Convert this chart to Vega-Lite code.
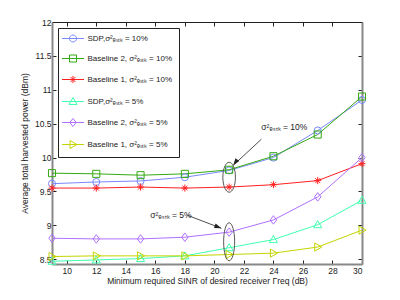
{
  "$schema": "https://vega.github.io/schema/vega-lite/v6.json",
  "width": 310,
  "height": 242,
  "autosize": "none",
  "padding": {"left": 52, "top": 22, "right": 38, "bottom": 36},
  "background": "white",
  "config": {
    "view": {"stroke": null},
    "font": "Liberation Sans",
    "axis": {"labelFont": "Liberation Sans", "titleFont": "Liberation Sans", "labelFontSize": 8.5, "titleFontSize": 8.5, "titleFontWeight": "normal", "labelColor": "#222", "titleColor": "#222", "grid": false, "tickColor": "#222", "tickSize": -4, "tickWidth": 1},
    "legend": {"labelFont": "Liberation Sans", "labelFontSize": 8, "labelColor": "#222"}
  },
  "datasets": {
    "main": [
      {"series": "SDP,σ²ₑₛₜₖ = 10%", "x": 9, "y": 9.615},
      {"series": "SDP,σ²ₑₛₜₖ = 10%", "x": 12, "y": 9.64},
      {"series": "SDP,σ²ₑₛₜₖ = 10%", "x": 15, "y": 9.655},
      {"series": "SDP,σ²ₑₛₜₖ = 10%", "x": 18, "y": 9.71},
      {"series": "SDP,σ²ₑₛₜₖ = 10%", "x": 21, "y": 9.81},
      {"series": "SDP,σ²ₑₛₜₖ = 10%", "x": 24, "y": 10.0},
      {"series": "SDP,σ²ₑₛₜₖ = 10%", "x": 27, "y": 10.4},
      {"series": "SDP,σ²ₑₛₜₖ = 10%", "x": 30, "y": 10.85},
      {"series": "Baseline 2, σ²ₑₛₜₖ = 10%", "x": 9, "y": 9.77},
      {"series": "Baseline 2, σ²ₑₛₜₖ = 10%", "x": 12, "y": 9.76},
      {"series": "Baseline 2, σ²ₑₛₜₖ = 10%", "x": 15, "y": 9.74},
      {"series": "Baseline 2, σ²ₑₛₜₖ = 10%", "x": 18, "y": 9.76},
      {"series": "Baseline 2, σ²ₑₛₜₖ = 10%", "x": 21, "y": 9.82},
      {"series": "Baseline 2, σ²ₑₛₜₖ = 10%", "x": 24, "y": 10.02},
      {"series": "Baseline 2, σ²ₑₛₜₖ = 10%", "x": 27, "y": 10.34},
      {"series": "Baseline 2, σ²ₑₛₜₖ = 10%", "x": 30, "y": 10.9},
      {"series": "Baseline 1, σ²ₑₛₜₖ = 10%", "x": 9, "y": 9.55},
      {"series": "Baseline 1, σ²ₑₛₜₖ = 10%", "x": 12, "y": 9.55},
      {"series": "Baseline 1, σ²ₑₛₜₖ = 10%", "x": 15, "y": 9.565},
      {"series": "Baseline 1, σ²ₑₛₜₖ = 10%", "x": 18, "y": 9.55},
      {"series": "Baseline 1, σ²ₑₛₜₖ = 10%", "x": 21, "y": 9.565},
      {"series": "Baseline 1, σ²ₑₛₜₖ = 10%", "x": 24, "y": 9.6},
      {"series": "Baseline 1, σ²ₑₛₜₖ = 10%", "x": 27, "y": 9.66},
      {"series": "Baseline 1, σ²ₑₛₜₖ = 10%", "x": 30, "y": 9.91},
      {"series": "SDP,σ²ₑₛₜₖ = 5%", "x": 9, "y": 8.47},
      {"series": "SDP,σ²ₑₛₜₖ = 5%", "x": 12, "y": 8.49},
      {"series": "SDP,σ²ₑₛₜₖ = 5%", "x": 15, "y": 8.51},
      {"series": "SDP,σ²ₑₛₜₖ = 5%", "x": 18, "y": 8.55},
      {"series": "SDP,σ²ₑₛₜₖ = 5%", "x": 21, "y": 8.67},
      {"series": "SDP,σ²ₑₛₜₖ = 5%", "x": 24, "y": 8.79},
      {"series": "SDP,σ²ₑₛₜₖ = 5%", "x": 27, "y": 9.01},
      {"series": "SDP,σ²ₑₛₜₖ = 5%", "x": 30, "y": 9.37},
      {"series": "Baseline 2, σ²ₑₛₜₖ = 5%", "x": 9, "y": 8.81},
      {"series": "Baseline 2, σ²ₑₛₜₖ = 5%", "x": 12, "y": 8.8},
      {"series": "Baseline 2, σ²ₑₛₜₖ = 5%", "x": 15, "y": 8.8},
      {"series": "Baseline 2, σ²ₑₛₜₖ = 5%", "x": 18, "y": 8.825},
      {"series": "Baseline 2, σ²ₑₛₜₖ = 5%", "x": 21, "y": 8.9},
      {"series": "Baseline 2, σ²ₑₛₜₖ = 5%", "x": 24, "y": 9.08},
      {"series": "Baseline 2, σ²ₑₛₜₖ = 5%", "x": 27, "y": 9.42},
      {"series": "Baseline 2, σ²ₑₛₜₖ = 5%", "x": 30, "y": 10.0},
      {"series": "Baseline 1, σ²ₑₛₜₖ = 5%", "x": 9, "y": 8.54},
      {"series": "Baseline 1, σ²ₑₛₜₖ = 5%", "x": 12, "y": 8.55},
      {"series": "Baseline 1, σ²ₑₛₜₖ = 5%", "x": 15, "y": 8.55},
      {"series": "Baseline 1, σ²ₑₛₜₖ = 5%", "x": 18, "y": 8.55},
      {"series": "Baseline 1, σ²ₑₛₜₖ = 5%", "x": 21, "y": 8.57},
      {"series": "Baseline 1, σ²ₑₛₜₖ = 5%", "x": 24, "y": 8.59},
      {"series": "Baseline 1, σ²ₑₛₜₖ = 5%", "x": 27, "y": 8.68},
      {"series": "Baseline 1, σ²ₑₛₜₖ = 5%", "x": 30, "y": 8.93}
    ]
  },
  "resolve": {"scale": {"color": "independent", "shape": "independent"}, "axis": {"x": "independent", "y": "independent"}},
  "layer": [
    {
      "data": {"name": "main"},
      "mark": {"type": "line", "strokeWidth": 1},
      "encoding": {
        "x": {"field": "x", "type": "quantitative", "scale": {"domain": [9, 30], "nice": false, "zero": false},
          "axis": {"orient": "bottom", "title": "Minimum required SINR of desired receiver Γreq (dB)", "values": [10, 12, 14, 16, 18, 20, 22, 24, 26, 28, 30], "domainColor": "#888", "domainWidth": 2, "labelPadding": 6, "titlePadding": 2}},
        "y": {"field": "y", "type": "quantitative", "scale": {"domain": [8.43, 12], "nice": false, "zero": false},
          "axis": {"orient": "left", "title": "Average total harvested power (dBm)", "values": [8.5, 9, 9.5, 10, 10.5, 11, 11.5, 12], "format": "~g", "domainColor": "#888", "domainWidth": 2, "labelPadding": 5, "titlePadding": 5}},
        "color": {"field": "series", "type": "nominal", "legend": null, "sort": null,
          "scale": {"domain": ["SDP,σ²ₑₛₜₖ = 10%", "Baseline 2, σ²ₑₛₜₖ = 10%", "Baseline 1, σ²ₑₛₜₖ = 10%", "SDP,σ²ₑₛₜₖ = 5%", "Baseline 2, σ²ₑₛₜₖ = 5%", "Baseline 1, σ²ₑₛₜₖ = 5%"],
            "range": ["#7a88ff", "#33aa11", "#ff2020", "#40ffb0", "#b070ff", "#c4d400"]}}
      }
    },
    {
      "data": {"name": "main"},
      "mark": {"type": "point", "filled": false, "size": 50, "strokeWidth": 1, "opacity": 1},
      "encoding": {
        "x": {"field": "x", "type": "quantitative", "axis": {"orient": "top", "labels": false, "title": null, "values": [10, 12, 14, 16, 18, 20, 22, 24, 26, 28, 30], "domainColor": "#222", "domainWidth": 1}},
        "y": {"field": "y", "type": "quantitative", "axis": {"orient": "right", "labels": false, "title": null, "values": [8.5, 9, 9.5, 10, 10.5, 11, 11.5, 12], "domainColor": "#888", "domainWidth": 2}},
        "color": {"field": "series", "type": "nominal", "legend": null,
          "scale": {"domain": ["SDP,σ²ₑₛₜₖ = 10%", "Baseline 2, σ²ₑₛₜₖ = 10%", "Baseline 1, σ²ₑₛₜₖ = 10%", "SDP,σ²ₑₛₜₖ = 5%", "Baseline 2, σ²ₑₛₜₖ = 5%", "Baseline 1, σ²ₑₛₜₖ = 5%"],
            "range": ["#7a88ff", "#33aa11", "#ff2020", "#40ffb0", "#b070ff", "#c4d400"]}},
        "shape": {"field": "series", "type": "nominal", "legend": null,
          "scale": {"domain": ["SDP,σ²ₑₛₜₖ = 10%", "Baseline 2, σ²ₑₛₜₖ = 10%", "Baseline 1, σ²ₑₛₜₖ = 10%", "SDP,σ²ₑₛₜₖ = 5%", "Baseline 2, σ²ₑₛₜₖ = 5%", "Baseline 1, σ²ₑₛₜₖ = 5%"],
            "range": ["circle", "square", "M0,-1L0,1M-1,0L1,0M-0.7,-0.7L0.7,0.7M-0.7,0.7L0.7,-0.7", "M0,-1.15L1.15,0.85L-1.15,0.85Z", "M0,-1.2L0.9,0L0,1.2L-0.9,0Z", "M-0.85,-1.15L1.15,0L-0.85,1.15Z"]}}
      }
    },
    {
      "data": {"name": "main"},
      "mark": {"type": "point", "filled": false, "opacity": 0, "strokeWidth": 1},
      "encoding": {
        "x": {"field": "x", "type": "quantitative", "axis": null},
        "y": {"field": "y", "type": "quantitative", "axis": null},
        "color": {"field": "series", "type": "nominal",
          "scale": {"domain": ["SDP,σ²ₑₛₜₖ = 10%", "Baseline 2, σ²ₑₛₜₖ = 10%", "Baseline 1, σ²ₑₛₜₖ = 10%", "SDP,σ²ₑₛₜₖ = 5%", "Baseline 2, σ²ₑₛₜₖ = 5%", "Baseline 1, σ²ₑₛₜₖ = 5%"],
            "range": ["#7a88ff", "#33aa11", "#ff2020", "#40ffb0", "#b070ff", "#c4d400"]},
          "legend": {"title": null, "orient": "top-left", "offset": 6, "strokeColor": "#222", "fillColor": "white", "padding": 6, "symbolSize": 64, "symbolOffset": 4.5, "labelOffset": 10, "rowPadding": 9, "symbolStrokeWidth": 1, "symbolOpacity": 1, "symbolFillColor": "transparent"}},
        "shape": {"field": "series", "type": "nominal",
          "scale": {"domain": ["SDP,σ²ₑₛₜₖ = 10%", "Baseline 2, σ²ₑₛₜₖ = 10%", "Baseline 1, σ²ₑₛₜₖ = 10%", "SDP,σ²ₑₛₜₖ = 5%", "Baseline 2, σ²ₑₛₜₖ = 5%", "Baseline 1, σ²ₑₛₜₖ = 5%"],
            "range": [
              "M-2.75,0L2.75,0M0.875,0A0.875,0.875,0,1,1,-0.875,0A0.875,0.875,0,1,1,0.875,0Z",
              "M-2.75,0L2.75,0M-0.875,-0.875L0.875,-0.875L0.875,0.875L-0.875,0.875Z",
              "M-2.75,0L2.75,0M0,-0.9L0,0.9M-0.65,-0.65L0.65,0.65M-0.65,0.65L0.65,-0.65",
              "M-2.75,0L2.75,0M0,-1L1,0.75L-1,0.75Z",
              "M-2.75,0L2.75,0M0,-1L0.8,0L0,1L-0.8,0Z",
              "M-2.75,0L2.75,0M-0.75,-1L1,0L-0.75,1Z"
            ]},
          "legend": {"title": null, "orient": "top-left", "offset": 6, "strokeColor": "#222", "fillColor": "white", "padding": 6, "symbolSize": 64, "symbolOffset": 4.5, "labelOffset": 10, "rowPadding": 9, "symbolStrokeWidth": 1, "symbolOpacity": 1, "symbolFillColor": "transparent"}}
      }
    },
    {
      "data": {"values": [{"x": 21, "y": 9.71}]},
      "mark": {"type": "point", "filled": false, "shape": "M0,-1A0.42,1,0,1,1,0,1A0.42,1,0,1,1,0,-1Z", "size": 900, "stroke": "#555", "strokeWidth": 1, "opacity": 1},
      "encoding": {"x": {"field": "x", "type": "quantitative", "axis": null}, "y": {"field": "y", "type": "quantitative", "axis": null}}
    },
    {
      "data": {"values": [{"x": 21, "y": 8.758}]},
      "mark": {"type": "point", "filled": false, "shape": "M0,-1A0.29,1,0,1,1,0,1A0.29,1,0,1,1,0,-1Z", "size": 1444, "stroke": "#555", "strokeWidth": 1, "opacity": 1},
      "encoding": {"x": {"field": "x", "type": "quantitative", "axis": null}, "y": {"field": "y", "type": "quantitative", "axis": null}}
    },
    {
      "data": {"values": [{"x": 23.18, "y": 10.27, "x2": 21.28, "y2": 9.886}, {"x": 18.17, "y": 9.149, "x2": 20.47, "y2": 8.957}]},
      "mark": {"type": "rule", "color": "#222", "strokeWidth": 0.8},
      "encoding": {
        "x": {"field": "x", "type": "quantitative", "axis": null}, "y": {"field": "y", "type": "quantitative", "axis": null},
        "x2": {"field": "x2"}, "y2": {"field": "y2"}
      }
    },
    {
      "data": {"values": [{"x": 21.28, "y": 9.886}]},
      "mark": {"type": "point", "filled": true, "shape": "M0,0L0.7,2L-0.7,2Z", "size": 49, "color": "#222", "opacity": 1, "angle": 215.8},
      "encoding": {"x": {"field": "x", "type": "quantitative", "axis": null}, "y": {"field": "y", "type": "quantitative", "axis": null}}
    },
    {
      "data": {"values": [{"x": 20.47, "y": 8.957}]},
      "mark": {"type": "point", "filled": true, "shape": "M0,0L0.7,2L-0.7,2Z", "size": 49, "color": "#222", "opacity": 1, "angle": 110.9},
      "encoding": {"x": {"field": "x", "type": "quantitative", "axis": null}, "y": {"field": "y", "type": "quantitative", "axis": null}}
    },
    {
      "data": {"values": [{"x": 23.18, "y": 10.45, "label": "σ²ₑₛₜₖ = 10%"}, {"x": 15.66, "y": 9.16, "label": "σ²ₑₛₜₖ = 5%"}]},
      "mark": {"type": "text", "align": "left", "baseline": "middle", "font": "Liberation Sans", "fontSize": 8.5, "color": "#222"},
      "encoding": {
        "x": {"field": "x", "type": "quantitative", "axis": null}, "y": {"field": "y", "type": "quantitative", "axis": null},
        "text": {"field": "label"}
      }
    }
  ]
}
